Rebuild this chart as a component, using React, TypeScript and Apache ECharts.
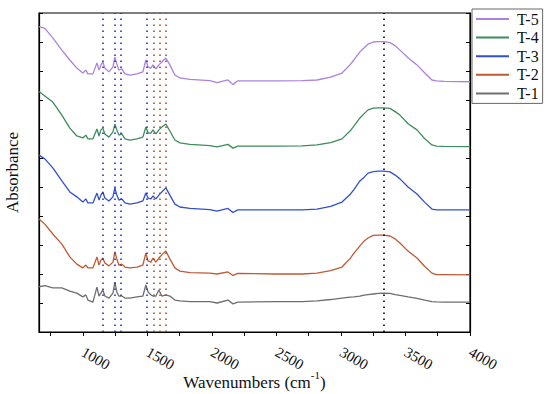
import React, { useEffect, useRef } from "react";
import * as echarts from "echarts";

const wavenumbers = [660, 705, 767, 837, 899, 953, 1000, 1023, 1039, 1078, 1109, 1125, 1140, 1155, 1170, 1202, 1233, 1248, 1263, 1279, 1302, 1326, 1364, 1419, 1465, 1488, 1505, 1527, 1543, 1566, 1589, 1612, 1643, 1674, 1713, 1752, 1830, 1984, 2040, 2124, 2163, 2200, 2500, 2700, 2814, 2920, 3008, 3070, 3100, 3147, 3180, 3210, 3250, 3290, 3330, 3380, 3420, 3457, 3520, 3589, 3650, 3705, 3740, 3800, 4000];

const t5 = [10.53, 10.47, 10.14, 9.72, 9.38, 9.10, 8.93, 9.03, 8.90, 8.90, 9.28, 9.03, 9.21, 9.31, 9.10, 8.97, 9.14, 9.48, 9.24, 9.03, 9.07, 8.90, 8.86, 8.90, 8.97, 9.38, 9.14, 9.10, 9.21, 9.07, 9.21, 9.31, 9.45, 9.21, 8.86, 8.76, 8.71, 8.67, 8.60, 8.69, 8.53, 8.66, 8.66, 8.67, 8.69, 8.79, 8.93, 9.21, 9.38, 9.66, 9.80, 9.93, 10.00, 10.01, 10.01, 9.98, 9.87, 9.72, 9.46, 9.21, 8.93, 8.69, 8.66, 8.64, 8.63];
const t4 = [8.29, 8.14, 7.93, 7.48, 7.03, 6.76, 6.69, 6.79, 6.66, 6.66, 7.00, 6.76, 6.97, 7.03, 6.83, 6.72, 6.90, 7.17, 6.97, 6.79, 6.83, 6.66, 6.62, 6.66, 6.72, 7.07, 6.86, 6.86, 6.97, 6.83, 6.97, 7.07, 7.17, 6.93, 6.62, 6.52, 6.47, 6.43, 6.38, 6.47, 6.34, 6.41, 6.41, 6.42, 6.45, 6.53, 6.66, 6.93, 7.10, 7.38, 7.53, 7.66, 7.72, 7.73, 7.73, 7.71, 7.60, 7.48, 7.18, 6.97, 6.66, 6.45, 6.41, 6.40, 6.39];
const t3 = [6.10, 5.97, 5.66, 5.21, 4.83, 4.66, 4.48, 4.59, 4.45, 4.45, 4.79, 4.55, 4.72, 4.83, 4.62, 4.52, 4.66, 4.97, 4.72, 4.55, 4.59, 4.45, 4.41, 4.45, 4.52, 4.79, 4.62, 4.59, 4.69, 4.59, 4.72, 4.83, 4.97, 4.72, 4.41, 4.31, 4.26, 4.22, 4.17, 4.26, 4.12, 4.21, 4.21, 4.21, 4.24, 4.33, 4.48, 4.74, 4.91, 5.21, 5.34, 5.48, 5.53, 5.55, 5.55, 5.52, 5.41, 5.28, 5.00, 4.76, 4.47, 4.24, 4.21, 4.21, 4.21];
const t2 = [3.90, 3.72, 3.38, 3.03, 2.59, 2.34, 2.21, 2.31, 2.21, 2.21, 2.59, 2.31, 2.48, 2.55, 2.38, 2.28, 2.41, 2.76, 2.52, 2.31, 2.34, 2.24, 2.21, 2.24, 2.31, 2.72, 2.45, 2.41, 2.55, 2.41, 2.55, 2.66, 2.79, 2.52, 2.21, 2.10, 2.05, 2.03, 2.00, 2.07, 1.95, 2.02, 2.00, 2.00, 2.03, 2.12, 2.24, 2.53, 2.71, 2.97, 3.14, 3.24, 3.33, 3.34, 3.34, 3.31, 3.21, 3.07, 2.79, 2.55, 2.26, 2.03, 1.98, 1.98, 1.97];
const t1 = [1.56, 1.60, 1.52, 1.52, 1.41, 1.34, 1.21, 1.28, 1.10, 1.03, 1.55, 1.24, 1.34, 1.45, 1.24, 1.17, 1.34, 1.72, 1.38, 1.24, 1.24, 1.17, 1.17, 1.21, 1.24, 1.62, 1.38, 1.28, 1.24, 1.24, 1.45, 1.24, 1.28, 1.24, 1.10, 1.07, 1.05, 1.05, 1.00, 1.10, 0.97, 1.03, 1.05, 1.05, 1.07, 1.12, 1.17, 1.20, 1.21, 1.24, 1.27, 1.29, 1.31, 1.33, 1.34, 1.33, 1.29, 1.26, 1.21, 1.16, 1.10, 1.05, 1.04, 1.03, 1.03];

const seriesNames = ["T-1", "T-2", "T-3", "T-4", "T-5"];
const seriesValues = [t1, t2, t3, t4, t5];
const seriesColors = ["#6e6e6e", "#c05a30", "#3050d0", "#3c8c5c", "#ab82e0"];
const legendOrder = ["T-5", "T-4", "T-3", "T-2", "T-1"];

const xTickValues = [750, 1000, 1250, 1500, 1750, 2000, 2250, 2500, 2750, 3000, 3250, 3500, 3750, 4000];
const xTickLabels = [1000, 1500, 2000, 2500, 3000, 3500, 4000];

const markBlue = [1155, 1250, 1295, 1495];
const markRed = [1550, 1595, 1645];
const markBlack = [3330];

const FONT = "'Liberation Serif', 'Times New Roman', serif";

export default function App() {
  const ref = useRef<HTMLDivElement>(null);
  useEffect(() => {
    if (!ref.current) return;
    const chart = echarts.init(ref.current, null, { renderer: "svg" });
    const dotted = (v: number, color: string) => ({
      xAxis: v,
      lineStyle: { color, type: [1.6, 4.4], width: 1.6 },
    });
    const markData = [
      ...markBlue.map((v) => dotted(v, "#2a2ad0")),
      ...markRed.map((v) => dotted(v, "#a84a32")),
      ...markBlack.map((v) => dotted(v, "#000000")),
    ];
    const series = seriesNames.map((name, i) => ({
      name,
      type: "line",
      symbol: "none",
      showSymbol: false,
      data: wavenumbers.map((w, j) => [w, seriesValues[i][j]]),
      lineStyle: { color: seriesColors[i], width: 1.3 },
      itemStyle: { color: seriesColors[i] },
      ...(i === seriesNames.length - 1
        ? {
            markLine: {
              silent: true,
              symbol: "none",
              label: { show: false },
              animation: false,
              data: markData,
            },
          }
        : {}),
    }));
    chart.setOption({
      animation: false,
      grid: {
        left: 39,
        right: 80,
        top: 13,
        bottom: 62,
        show: true,
        borderColor: "#000",
        borderWidth: 1.2,
        outerBoundsMode: "none",
      },
      legend: {
        orient: "vertical",
        left: 472,
        top: 9,
        data: legendOrder,
        itemWidth: 33,
        itemHeight: 14,
        itemGap: 2.6,
        padding: [2, 4, 2, 3],
        borderColor: "#666",
        borderWidth: 1,
        itemStyle: { opacity: 0 },
        textStyle: { fontFamily: FONT, fontSize: 16, color: "#111", lineHeight: 16, padding: [0, 0, 0, 3] },
      },
      xAxis: {
        type: "value",
        min: 660,
        max: 4000,
        axisLine: { show: true, lineStyle: { color: "#000", width: 1.2 } },
        axisTick: { show: true, inside: false, length: 4, customValues: xTickValues, lineStyle: { color: "#000", width: 1 } },
        axisLabel: {
          customValues: xTickLabels,
          formatter: (v: number) => String(v),
          rotate: -30,
          margin: 19,
          fontFamily: FONT,
          fontSize: 15,
          color: "#111",
        },
        splitLine: { show: false },
        name: "{a|Wavenumbers (cm}{sup|-1}{a|)}",
        nameLocation: "middle",
        nameGap: 37,
        nameMoveOverlap: false,
        nameTextStyle: {
          rich: {
            a: { fontFamily: FONT, fontSize: 17, color: "#111", lineHeight: 22, verticalAlign: "bottom" },
            sup: { fontFamily: FONT, fontSize: 11, color: "#111", lineHeight: 11, verticalAlign: "top" },
          },
        },
      },
      yAxis: [
        {
          type: "value",
          min: 0,
          max: 11,
          interval: 1,
          axisLine: { show: true, lineStyle: { color: "#000", width: 1.2 } },
          axisTick: { show: true, inside: true, length: 4, lineStyle: { color: "#000" } },
          axisLabel: { show: false },
          splitLine: { show: false },
          name: "Absorbance",
          nameLocation: "middle",
          nameGap: 18,
          nameMoveOverlap: false,
          nameTextStyle: { fontFamily: FONT, fontSize: 17, color: "#111" },
        },
        {
          type: "value",
          position: "right",
          min: 0,
          max: 11,
          interval: 1,
          axisLine: { show: true, lineStyle: { color: "#000", width: 1.2 } },
          axisTick: { show: true, inside: true, length: 4, lineStyle: { color: "#000" } },
          axisLabel: { show: false },
          splitLine: { show: false },
        },
      ],
      series,
    });
    return () => chart.dispose();
  }, []);
  return <div ref={ref} style={{ width: 550, height: 394, position: "absolute", left: 0, top: 0 }} />;
}
